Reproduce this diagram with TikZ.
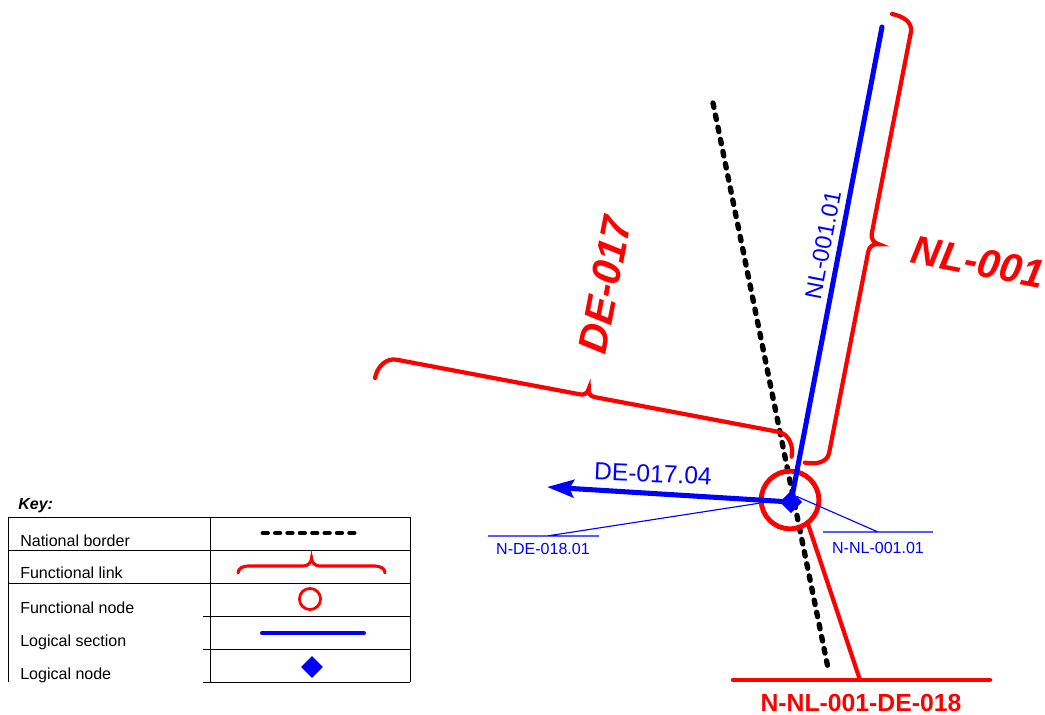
\documentclass[tikz,border=0pt]{standalone}
\usepackage{fontspec}
\setmainfont{Liberation Sans}
\usetikzlibrary{arrows.meta,shapes.geometric}
\definecolor{linkred}{RGB}{255,0,0}
\definecolor{secblue}{RGB}{0,0,255}
\tikzset{
  border/.style={line width=3.8pt,dash pattern=on 3.2pt off 5.6pt,line cap=round},
  lsec/.style={secblue,line width=3.6pt},
  flinkline/.style={linkred,line width=3pt,line cap=round},
  fnode/.style={circle,draw=linkred,line width=3.5pt,inner sep=0pt},
  lnode/.style={diamond,fill=secblue,inner sep=0pt,minimum size=15.6pt},
  leader/.style={secblue,line width=0.8pt},
  keytext/.style={anchor=base west,inner sep=0pt,font=\fontsize{11.4}{13}\selectfont},
  leadtext/.style={secblue,inner sep=0pt,font=\fontsize{11.4}{13}\selectfont},
  pics/flink/.style n args={4}{code={
    \draw (0,0) to[out=90,in=180] (#2,#3) -- ({#1/2-#4},#3)
      to[out=0,in=-90] ({#1/2},{#3+#4}) to[out=-90,in=180] ({#1/2+#4},#3)
      -- ({#1-#2},#3) to[out=0,in=90] (#1,0);
  }}
}
\begin{document}
\begin{tikzpicture}[x=0.025cm,y=0.025cm]
  \useasboundingbox (0,0) rectangle (1045,715);
  % key
  \node[keytext,font=\fontsize{11.4}{13}\selectfont\bfseries\itshape] (key) at (18,205) {Key:};
  \draw[line width=0.7pt] (8,198) -- (410,198) (8,165) -- (410,165) (8,132) -- (410,132)
      (203,99) -- (410,99) (203,66) -- (410,66) (203,33) -- (410,33)
      (8,198) -- (8,33) (210,198) -- (210,33) (410,198) -- (410,33);
  \node[keytext] (kborder) at (20,168) {National border};
  \node[keytext] (klink) at (20,136) {Functional link};
  \node[keytext] (kfnode) at (20,101) {Functional node};
  \node[keytext] (ksec) at (20,68) {Logical section};
  \node[keytext] (klnode) at (20,35) {Logical node};
  \coordinate (kbA) at (263,182); \coordinate (kbB) at (358,182);
  \draw[border,line width=3.4pt] (kbA) -- (kbB);
  \pic[flinkline,line width=2.2pt] at (238,142) {flink={147}{10}{7}{8}};
  \node[fnode,line width=2pt,minimum size=15pt] (kcirc) at (310,116) {};
  \coordinate (ksA) at (262,82); \coordinate (ksB) at (364,82);
  \draw[lsec,line width=2.8pt,line cap=round] (ksA) -- (ksB);
  \node[lnode] (kdiam) at (312,48) {};
  % national border
  \coordinate (bordtop) at (713,612);
  \coordinate (bordbot) at (828,47);
  \draw[border] (bordtop) -- (bordbot);
  % functional links
  \pic[flinkline] at (892,701) [rotate=259] {flink={457}{14}{22}{9}};
  \pic[flinkline] at (375,337) [rotate=-10.7] {flink={424}{18}{22}{7}};
  \node[linkred,font=\fontsize{28.5}{31}\selectfont\bfseries\itshape,rotate=-11] (nllink) at (978,453) {NL-001};
  \node[linkred,font=\fontsize{29}{32}\selectfont\bfseries\itshape,rotate=79] (delink) at (605,430) {DE-017};
  % functional node and junction
  \node[fnode,minimum size=41pt] (fn) at (790,215) {};
  \coordinate (junc) at (860,35);
  \coordinate (juncL) at (733,35);
  \coordinate (juncR) at (990,35);
  \draw[flinkline] (fn.-54) -- (junc);
  \draw[flinkline,line width=3.2pt] (juncL) -- (juncR);
  \node[linkred,font=\fontsize{17.6}{20}\selectfont\bfseries] (jlbl) at (861,12) {N-NL-001-DE-018};
  % logical sections
  \node[lnode] (ln) at (791,213) {};
  \coordinate (nlend) at (882,688);
  \coordinate (deend) at (547,228);
  \draw[lsec,line cap=round] (ln.center) -- (nlend);
  \draw[lsec,-{Stealth[length=19pt,width=12.5pt,inset=3pt]}] (ln.center) -- (deend);
  \node[lnode] at (ln) {};
  \node[secblue,font=\fontsize{16.6}{19}\selectfont,rotate=79] (nlsec) at (823,470) {NL-001.01};
  \node[secblue,font=\fontsize{17.5}{20}\selectfont,rotate=-2.4] (desec) at (653,241) {DE-017.04};
  % leaders
  \coordinate (ndeknee) at (547,179);
  \coordinate (ndeL) at (488,179); \coordinate (ndeR) at (599,179);
  \draw[leader] (fn.186) -- (ndeknee) (ndeL) -- (ndeR);
  \node[leadtext] (ndelbl) at (543,166) {N-DE-018.01};
  \coordinate (nnlknee) at (878,183);
  \coordinate (nnlL) at (823,183); \coordinate (nnlR) at (933,183);
  \draw[leader] (ln.north east) -- (nnlknee) (nnlL) -- (nnlR);
  \node[leadtext] (nnllbl) at (878,167) {N-NL-001.01};
\end{tikzpicture}
\end{document}
